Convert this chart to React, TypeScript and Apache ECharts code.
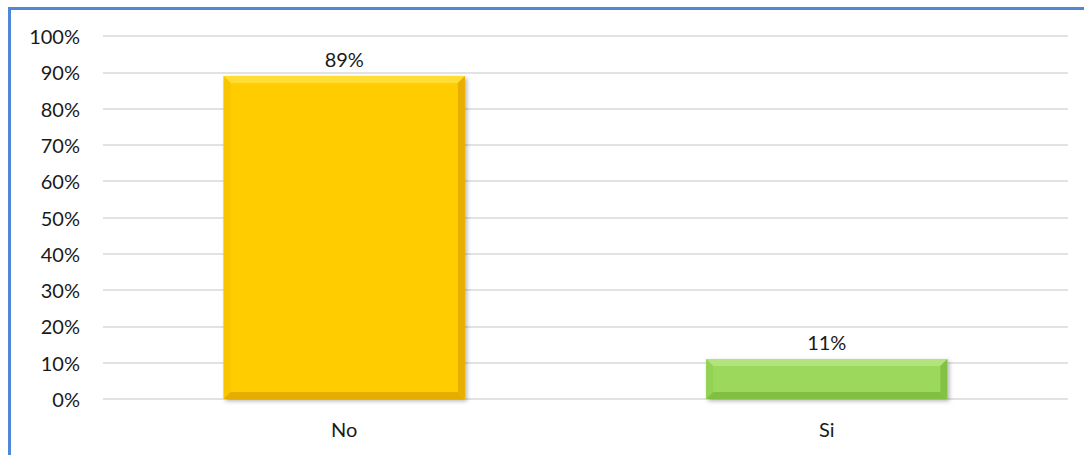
import React, { useEffect, useRef } from "react";
import * as echarts from "echarts";

const categories = ["No", "Si"];
const values = [0.89, 0.11];
const faceColors = ["#FFCC00", "#9BD85B"];
const topColors = ["#FFDD33", "#B3E47B"];
const leftColors = ["#F9C400", "#93D253"];
const rightColors = ["#E8AE00", "#82C143"];
const bottomColors = ["#E5AD00", "#80BF41"];
const yTicks = [0, 0.1, 0.2, 0.3, 0.4, 0.5, 0.6, 0.7, 0.8, 0.9, 1];

const FONT = "Lato, 'Open Sans', sans-serif";

export default function App() {
  const ref = useRef<HTMLDivElement>(null);
  useEffect(() => {
    if (!ref.current) return;
    const chart = echarts.init(ref.current, null, { renderer: "svg" });
    const option: any = {
      animation: false,
      backgroundColor: "#ffffff",
      graphic: [
        { type: "rect", shape: { x: 8, y: 7, width: 1076, height: 3 }, style: { fill: "#4F88D6" }, z: 100 },
        { type: "rect", shape: { x: 8, y: 7, width: 3, height: 448 }, style: { fill: "#4F88D6" }, z: 100 },
      ],
      grid: { left: 103, top: 36, width: 965, height: 363, containLabel: false },
      xAxis: {
        type: "category",
        data: categories,
        axisLine: { show: false },
        axisTick: { show: false },
        axisLabel: { color: "#1a1a1a", fontFamily: FONT, fontSize: 20, margin: 20 },
        splitLine: { show: false },
      },
      yAxis: {
        type: "value",
        min: 0,
        max: 1,
        interval: 0.1,
        axisLine: { show: false },
        axisTick: { show: false },
        axisLabel: {
          color: "#1a1a1a",
          fontFamily: FONT,
          fontSize: 20,
          margin: 23,
          formatter: (v: number) => {
            const t = yTicks.find((x) => Math.abs(x - v) < 1e-9);
            return Math.round((t ?? v) * 100) + "%";
          },
        },
        splitLine: { lineStyle: { color: "#D9D9D9", width: 1.5 } },
      },
      series: [
        {
          type: "custom",
          data: values.map((v, i) => [i, v]),
          renderItem: (params: any, api: any) => {
            const i = api.value(0);
            const v = api.value(1);
            const topPt = api.coord([i, v]);
            const basePt = api.coord([i, 0]);
            const w = api.size([1, 0])[0] * 0.5;
            const x0 = topPt[0] - w / 2;
            const x1 = topPt[0] + w / 2;
            const y0 = topPt[1];
            const y1 = basePt[1];
            const b = Math.min(7, (y1 - y0) / 2);
            const idx = params.dataIndex;
            return {
              type: "group",
              children: [
                {
                  type: "rect",
                  shape: { x: x0, y: y0, width: x1 - x0, height: y1 - y0 },
                  style: {
                    fill: faceColors[idx],
                    shadowBlur: 4,
                    shadowColor: "rgba(0,0,0,0.3)",
                    shadowOffsetX: 2,
                    shadowOffsetY: 2,
                  },
                },
                {
                  type: "polygon",
                  shape: { points: [[x0, y0], [x1, y0], [x1 - b, y0 + b], [x0 + b, y0 + b]] },
                  style: { fill: topColors[idx] },
                },
                {
                  type: "polygon",
                  shape: { points: [[x0, y0], [x0 + b, y0 + b], [x0 + b, y1 - b], [x0, y1]] },
                  style: { fill: leftColors[idx] },
                },
                {
                  type: "polygon",
                  shape: { points: [[x1, y0], [x1, y1], [x1 - b, y1 - b], [x1 - b, y0 + b]] },
                  style: { fill: rightColors[idx] },
                },
                {
                  type: "polygon",
                  shape: { points: [[x0, y1], [x0 + b, y1 - b], [x1 - b, y1 - b], [x1, y1]] },
                  style: { fill: bottomColors[idx] },
                },
                {
                  type: "text",
                  x: topPt[0],
                  y: y0 - 7,
                  style: {
                    text: Math.round(v * 100) + "%",
                    fill: "#1a1a1a",
                    font: `20px ${FONT}`,
                    align: "center",
                    verticalAlign: "bottom",
                  },
                },
              ],
            };
          },
        },
      ],
    };
    chart.setOption(option);
    return () => chart.dispose();
  }, []);
  return (
    <div
      ref={ref}
      style={{ position: "fixed", left: 0, top: 0, width: 1084, height: 455 }}
    />
  );
}
